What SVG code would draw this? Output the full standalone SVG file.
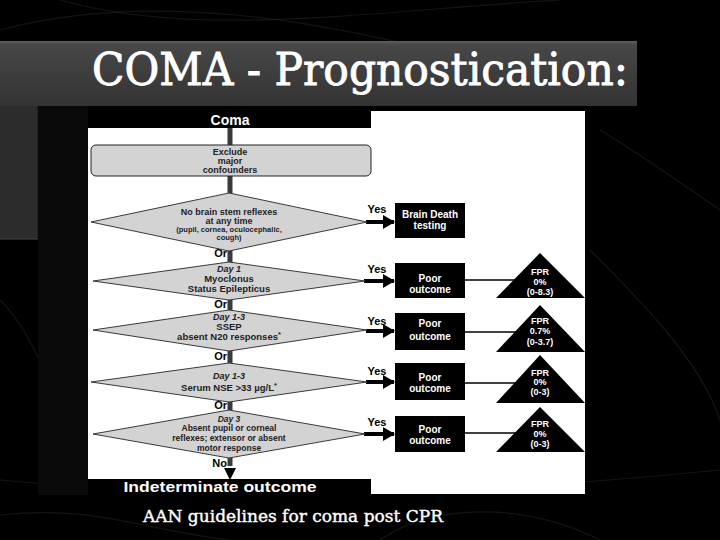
<svg xmlns="http://www.w3.org/2000/svg" width="720" height="540" viewBox="0 0 720 540">
<defs>
<linearGradient id="barg" x1="0" y1="0" x2="0" y2="1">
<stop offset="0" stop-color="#5e5e5e"/>
<stop offset="0.06" stop-color="#474747"/>
<stop offset="1" stop-color="#333333"/>
</linearGradient>
<marker id="ah" markerUnits="userSpaceOnUse" markerWidth="12" markerHeight="14" refX="11" refY="7" orient="auto">
<path d="M0,0 L12,7 L0,14 Z" fill="#000"/>
</marker>
<style>
.bg-swirl{fill:none;stroke:#222;stroke-width:1.2;opacity:0.6}
.dia{fill:#d3d3d3;stroke:#3a3a3a;stroke-width:1}
.dt{font-family:"Liberation Sans",Arial,sans-serif;font-weight:bold;fill:#222;text-anchor:middle}
.day{font-style:italic}
.blk{fill:#000}
.wt{font-family:"Liberation Sans",Arial,sans-serif;font-weight:bold;fill:#fff;text-anchor:middle}
.lbl{font-family:"Liberation Sans",Arial,sans-serif;font-weight:bold;fill:#000;font-size:11px}
.thin{stroke:#000;stroke-width:1.5}
.yes{stroke:#000;stroke-width:4;marker-end:url(#ah)}
.tri{fill:#000}
.title{font-family:"DejaVu Serif","Liberation Serif",serif;fill:#fff;stroke:#fff}
</style>
</defs>
<rect x="0" y="0" width="720" height="540" fill="#000"/>
<g id="background">
<path class="bg-swirl" d="M0,30 C150,-10 320,20 470,60"/>
<path class="bg-swirl" d="M60,0 C200,40 380,10 560,0"/>
<path class="bg-swirl" d="M600,130 C650,160 690,190 720,210"/>
<path class="bg-swirl" d="M590,250 C640,300 700,360 720,420"/>
<path class="bg-swirl" d="M0,300 C30,330 50,380 70,440"/>
<path class="bg-swirl" d="M0,480 C200,500 420,500 720,470"/>
<path class="bg-swirl" d="M380,540 C430,505 520,500 600,540"/>
<path class="bg-swirl" d="M0,515 C100,505 140,530 230,540"/>
<rect x="0" y="41" width="637" height="65" fill="url(#barg)"/>
<rect x="0" y="106" width="38" height="133" fill="#2c2c2c"/>
<line x1="0" y1="239" x2="38" y2="239" stroke="#444" stroke-width="1"/>
<line x1="38" y1="106" x2="38" y2="239" stroke="#1a1a1a" stroke-width="1"/>
<rect x="38" y="106" width="50" height="389" fill="#0a0a0a"/>
</g>
<text class="title" x="92" y="85" font-size="44" stroke-width="0.9" textLength="536" lengthAdjust="spacingAndGlyphs">COMA - Prognostication:</text>
<rect id="panel" x="88" y="111" width="497" height="383" fill="#fff"/>
<g id="connectors">
<line x1="230" y1="128" x2="230" y2="466" stroke="#3a3a3a" stroke-width="5"/>
<line class="yes" x1="366" y1="222" x2="394" y2="222"/>
<line class="yes" x1="364" y1="281" x2="394" y2="281"/>
<line class="yes" x1="366" y1="331" x2="394" y2="331"/>
<line class="yes" x1="366" y1="382" x2="394" y2="382"/>
<line class="yes" x1="364" y1="434" x2="394" y2="434"/>
<line class="thin" x1="465" y1="280" x2="530" y2="280"/>
<line class="thin" x1="465" y1="332" x2="530" y2="332"/>
<line class="thin" x1="465" y1="383" x2="530" y2="383"/>
<line class="thin" x1="465" y1="433" x2="530" y2="433"/>
<path d="M224,468 L236,468 L230,480 Z" fill="#000"/>
<text class="lbl" x="377" y="213" text-anchor="middle">Yes</text>
<text class="lbl" x="377" y="273" text-anchor="middle">Yes</text>
<text class="lbl" x="377" y="325" text-anchor="middle">Yes</text>
<text class="lbl" x="377" y="375" text-anchor="middle">Yes</text>
<text class="lbl" x="377" y="426" text-anchor="middle">Yes</text>
<text class="lbl" x="227" y="257" text-anchor="end">Or</text>
<text class="lbl" x="227" y="308" text-anchor="end">Or</text>
<text class="lbl" x="227" y="360" text-anchor="end">Or</text>
<text class="lbl" x="227" y="409" text-anchor="end">Or</text>
<text class="lbl" x="227" y="467" text-anchor="end">No</text>
</g>
<g id="coma">
<rect class="blk" x="88" y="111" width="283" height="17"/>
<text class="wt" x="230" y="124.5" font-size="14">Coma</text>
</g>
<g id="exclude">
<rect x="91" y="145" width="280" height="31" rx="5" fill="#d3d3d3" stroke="#222" stroke-width="1"/>
<text class="dt" x="230" y="155" font-size="9">Exclude</text>
<text class="dt" x="230" y="164" font-size="9">major</text>
<text class="dt" x="230" y="173" font-size="9">confounders</text>
</g>
<g id="d1">
<polygon class="dia" points="91,222 229,193 367,222 229,251"/>
<text class="dt" x="229" y="215" font-size="9">No brain stem reflexes</text>
<text class="dt" x="229" y="224" font-size="9">at any time</text>
<text class="dt" x="229" y="232" font-size="7.5">(pupil, cornea, oculocephalic,</text>
<text class="dt" x="229" y="240" font-size="7.5">cough)</text>
</g>
<g id="d2">
<polygon class="dia" points="93,281 229,262 365,281 229,300"/>
<text class="dt day" x="229" y="271.5" font-size="9">Day 1</text>
<text class="dt" x="229" y="281.5" font-size="9.5">Myoclonus</text>
<text class="dt" x="229" y="291.5" font-size="9.5">Status Epilepticus</text>
</g>
<g id="d3">
<polygon class="dia" points="93,330 229,310 367,330 229,351"/>
<text class="dt day" x="229" y="320" font-size="9">Day 1-3</text>
<text class="dt" x="229" y="329.5" font-size="9.5">SSEP</text>
<text class="dt" x="229" y="339.5" font-size="9.5">absent N20 responses<tspan font-size="7.5" dy="-3">*</tspan></text>
</g>
<g id="d4">
<polygon class="dia" points="91,382 229,363 367,382 229,402"/>
<text class="dt day" x="229" y="378.5" font-size="9">Day 1-3</text>
<text class="dt" x="229" y="390.5" font-size="9.5">Serum NSE &gt;33 µg/L<tspan font-size="7.5" dy="-3">*</tspan></text>
</g>
<g id="d5">
<polygon class="dia" points="93,434 229,410 365,434 229,458"/>
<text class="dt day" x="229" y="421.5" font-size="8.5">Day 3</text>
<text class="dt" x="229" y="430.5" font-size="8.5">Absent pupil or corneal</text>
<text class="dt" x="229" y="440.5" font-size="8.5">reflexes; extensor or absent</text>
<text class="dt" x="229" y="450.5" font-size="8.5">motor response</text>
</g>
<g id="brain-death">
<rect class="blk" x="395" y="203" width="70" height="35"/>
<text class="wt" x="430" y="218" font-size="10">Brain Death</text>
<text class="wt" x="430" y="229" font-size="10">testing</text>
</g>
<g id="poor1">
<rect class="blk" x="395" y="263" width="70" height="35"/>
<text class="wt" x="430" y="282" font-size="10">Poor</text>
<text class="wt" x="430" y="293" font-size="10">outcome</text>
</g>
<g id="poor2">
<rect class="blk" x="395" y="313" width="70" height="37"/>
<text class="wt" x="430" y="327" font-size="10">Poor</text>
<text class="wt" x="430" y="340" font-size="10">outcome</text>
</g>
<g id="poor3">
<rect class="blk" x="395" y="363" width="70" height="37"/>
<text class="wt" x="430" y="380.5" font-size="10">Poor</text>
<text class="wt" x="430" y="391.5" font-size="10">outcome</text>
</g>
<g id="poor4">
<rect class="blk" x="395" y="416" width="70" height="36"/>
<text class="wt" x="430" y="432.5" font-size="10">Poor</text>
<text class="wt" x="430" y="443.5" font-size="10">outcome</text>
</g>
<g id="fpr1">
<polygon class="tri" points="540,253 585,298 496,298"/>
<text class="wt" x="540" y="274.5" font-size="9">FPR</text>
<text class="wt" x="540" y="284.5" font-size="9">0%</text>
<text class="wt" x="540" y="294.5" font-size="9">(0-8.3)</text>
</g>
<g id="fpr2">
<polygon class="tri" points="540,305 585,352 496,352"/>
<text class="wt" x="540" y="323.5" font-size="9">FPR</text>
<text class="wt" x="540" y="334" font-size="9">0.7%</text>
<text class="wt" x="540" y="344.5" font-size="9">(0-3.7)</text>
</g>
<g id="fpr3">
<polygon class="tri" points="540,355 585,403 496,403"/>
<text class="wt" x="540" y="375.5" font-size="9">FPR</text>
<text class="wt" x="540" y="385" font-size="9">0%</text>
<text class="wt" x="540" y="394.5" font-size="9">(0-3)</text>
</g>
<g id="fpr4">
<polygon class="tri" points="540,407 585,452 496,452"/>
<text class="wt" x="540" y="426.5" font-size="9">FPR</text>
<text class="wt" x="540" y="436.5" font-size="9">0%</text>
<text class="wt" x="540" y="446.5" font-size="9">(0-3)</text>
</g>
<g id="indeterminate">
<rect class="blk" x="88" y="479" width="283" height="16"/>
<text class="wt" x="220" y="492" font-size="14.5" textLength="193" lengthAdjust="spacingAndGlyphs">Indeterminate outcome</text>
</g>
<text class="title" x="143" y="522" font-size="16.5" stroke-width="0.4" textLength="300" lengthAdjust="spacingAndGlyphs">AAN guidelines for coma post CPR</text>
</svg>
